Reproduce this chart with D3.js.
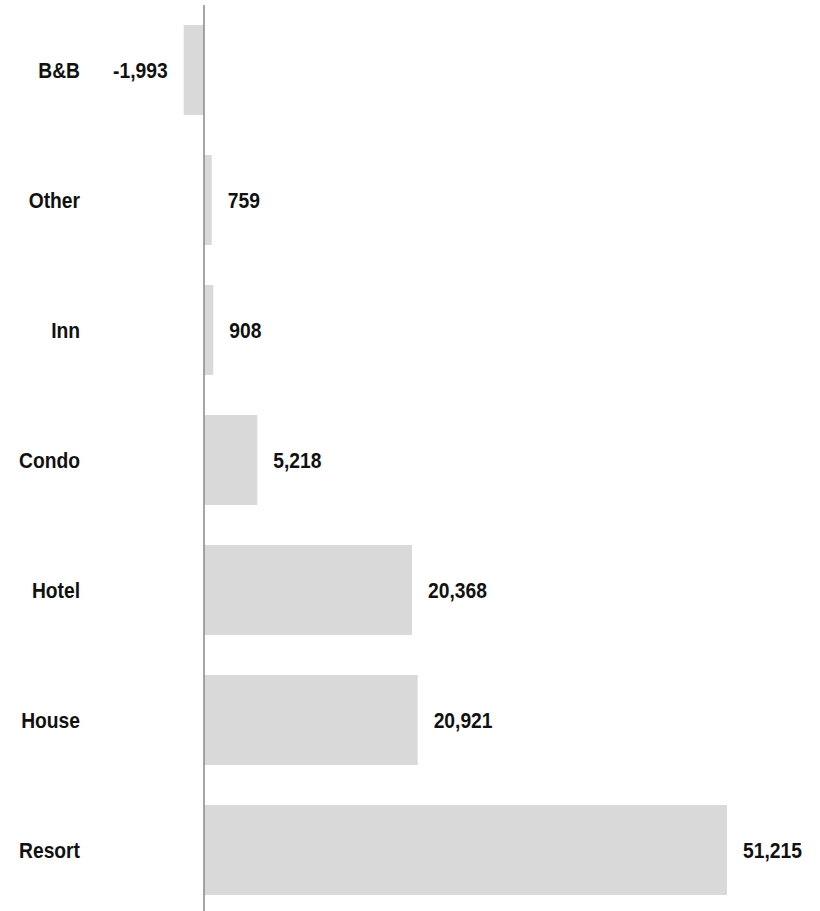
<!DOCTYPE html>
<html>
<head>
<meta charset="utf-8">
<script src="https://cdn.jsdelivr.net/npm/d3@7"></script>
<style>
  html, body { margin: 0; padding: 0; background: #fff; }
  svg { display: block; }
  text { font-family: "Liberation Sans", Arial, sans-serif; font-weight: bold; fill: #111; font-size: 22px; }
</style>
</head>
<body>
<svg id="chart" width="820" height="911"></svg>
<script>
// Change by property type
const categories = ["B&B", "Other", "Inn", "Condo", "Hotel", "House", "Resort"];
const values = [-1993, 759, 908, 5218, 20368, 20921, 51215];

const width = 820, height = 911;
const zeroX = 204, maxX = 727;
const narrow = 0.875; // horizontal squeeze for a condensed look
const svg = d3.select("#chart");

const x = d3.scaleLinear()
  .domain([0, d3.max(values)])
  .range([zeroX, maxX]);

const y = d3.scaleBand()
  .domain(categories)
  .range([5, 915])
  .paddingInner(40 / 130)
  .paddingOuter(20 / 130);

const rows = categories.map((c, i) => ({ cat: c, val: values[i] }));

// bars
svg.append("g").selectAll("rect")
  .data(rows)
  .join("rect")
  .attr("x", d => Math.min(x(0), x(d.val)))
  .attr("y", d => y(d.cat))
  .attr("width", d => Math.abs(x(d.val) - x(0)))
  .attr("height", y.bandwidth())
  .attr("fill", "#d9d9d9");

// zero line
svg.append("line")
  .attr("x1", x(0)).attr("x2", x(0))
  .attr("y1", 5).attr("y2", height)
  .attr("stroke", "#888")
  .attr("stroke-width", 1.5);

const cy = d => y(d.cat) + y.bandwidth() / 2;

// category labels
svg.append("g").selectAll("text")
  .data(rows)
  .join("text")
  .attr("transform", d => `translate(80,${cy(d)}) scale(${narrow},1)`)
  .attr("dy", "0.35em")
  .attr("text-anchor", "end")
  .text(d => d.cat);

// value labels
const fmt = d3.formatLocale({ decimal: ".", thousands: ",", grouping: [3], currency: ["", ""], minus: "-" }).format(",");
svg.append("g").selectAll("text")
  .data(rows)
  .join("text")
  .attr("transform", d => {
    const tx = d.val < 0 ? x(d.val) - 16 : x(d.val) + 16;
    return `translate(${tx},${cy(d)}) scale(${narrow},1)`;
  })
  .attr("dy", "0.35em")
  .attr("text-anchor", d => d.val < 0 ? "end" : "start")
  .text(d => fmt(d.val));
</script>
</body>
</html>
